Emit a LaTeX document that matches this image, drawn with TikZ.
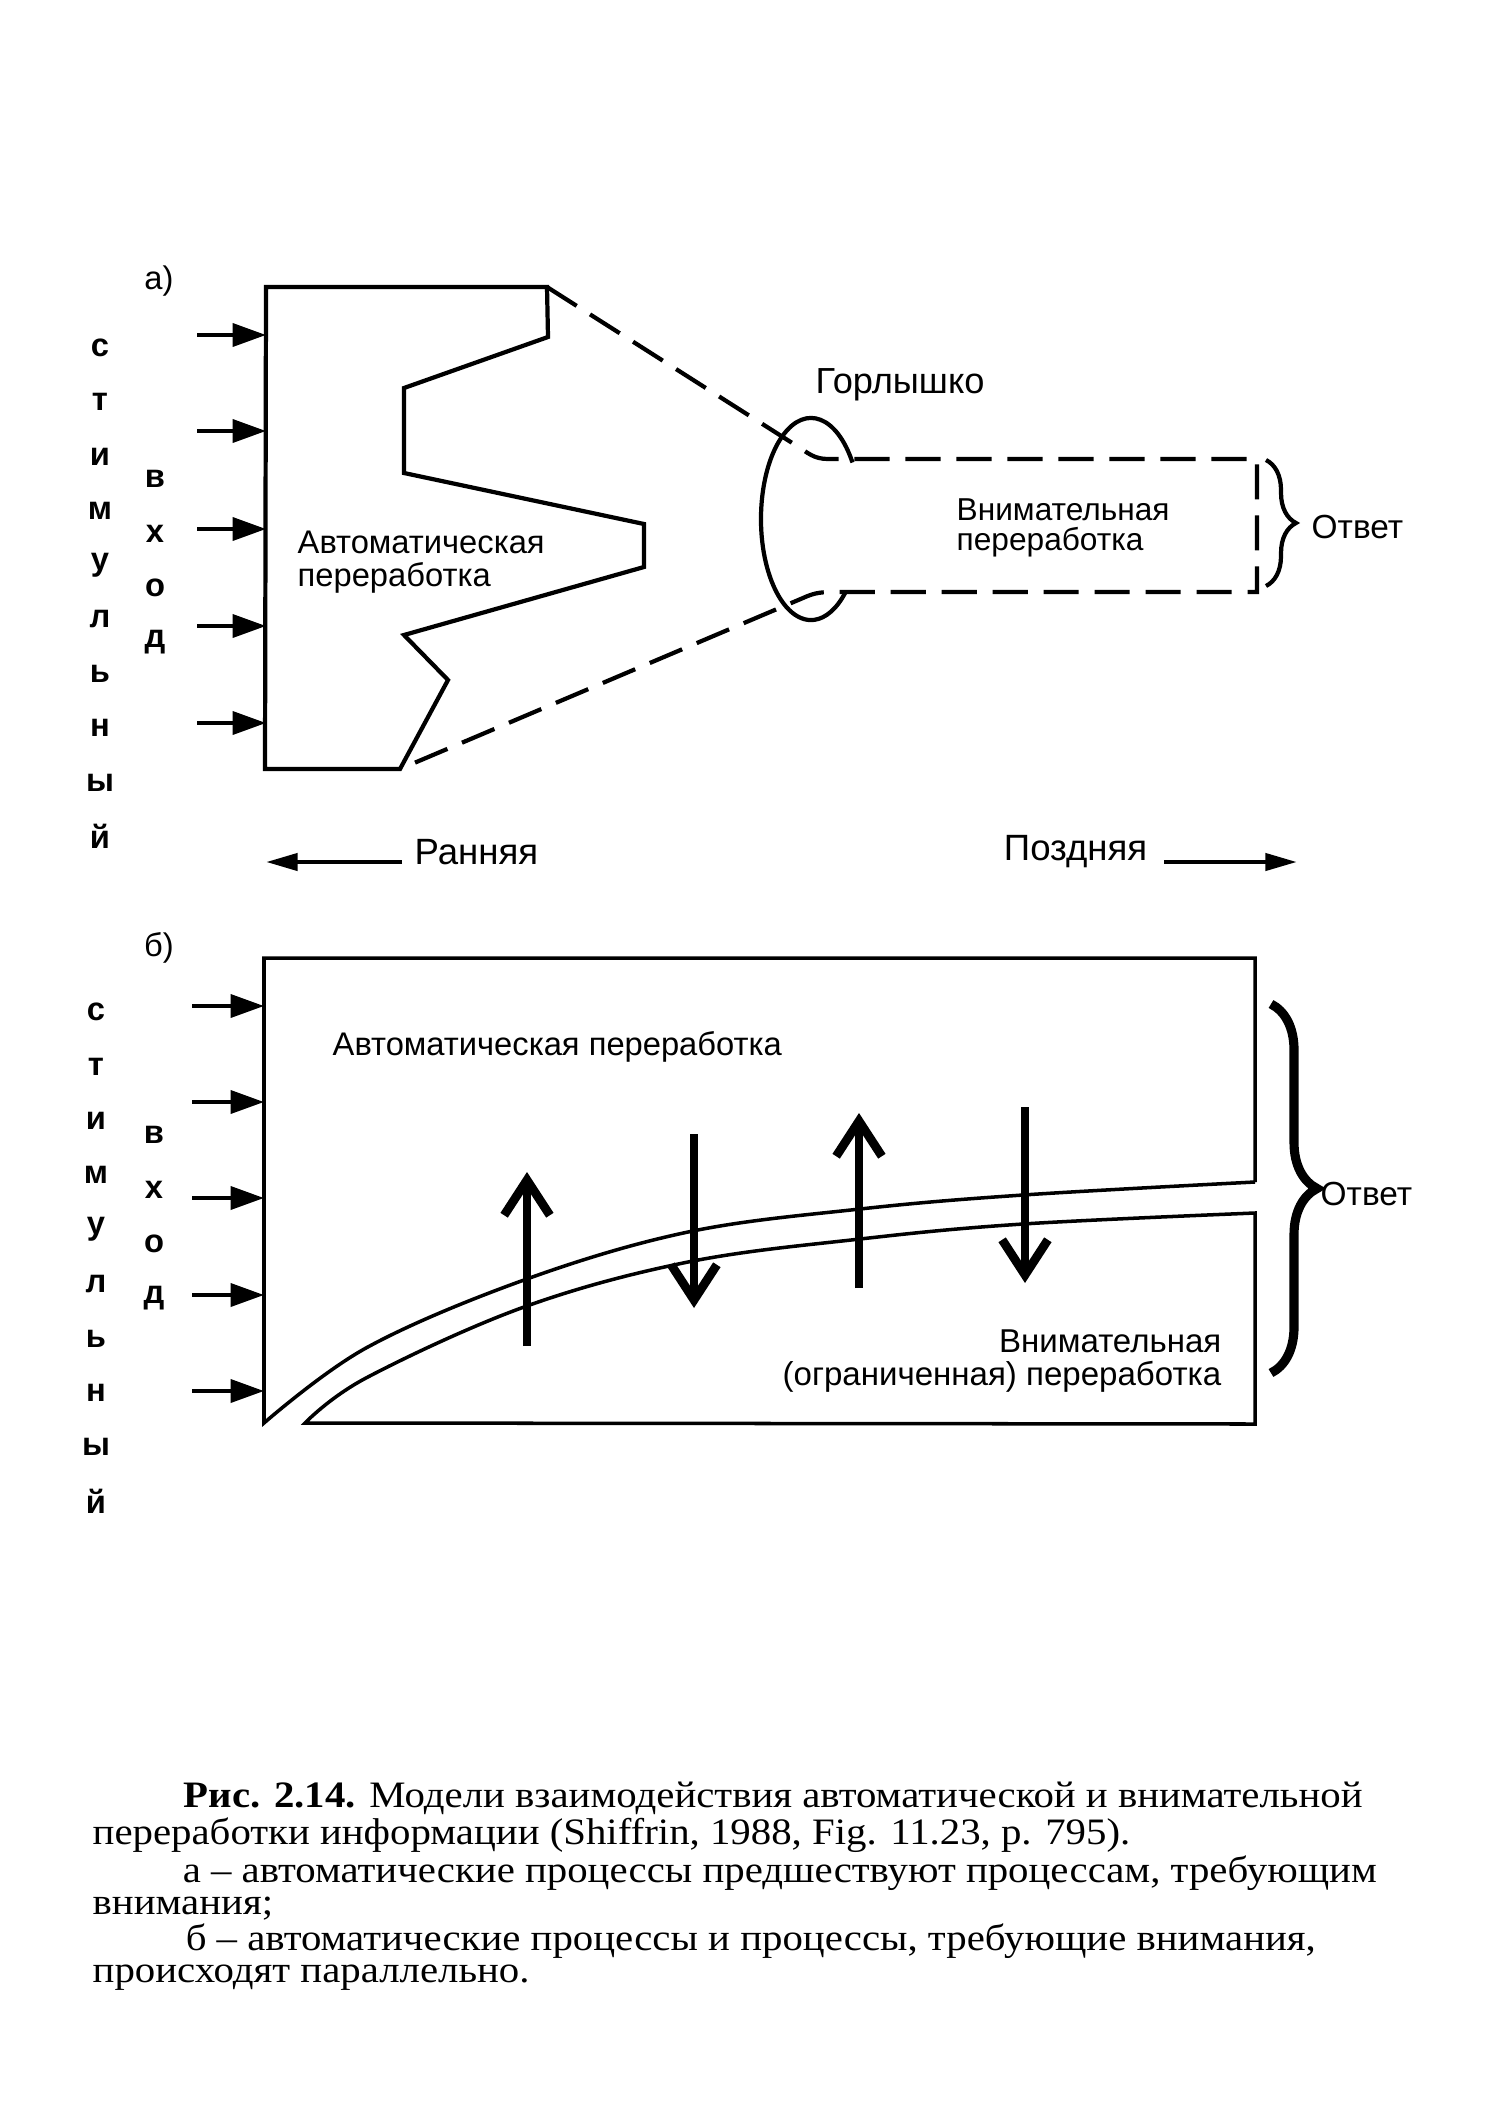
\documentclass[tikz,border=0pt]{standalone}
\usepackage{fontspec}
\setmainfont{Liberation Serif}
\setsansfont{Liberation Sans}
\newfontfamily\capfont[FakeStretch=1.095]{Liberation Serif}
\usepackage{tikz}
\usetikzlibrary{positioning,arrows.meta,decorations.pathreplacing,calc}
\tikzset{>=latex}
\tikzset{outline/.style={line width=1.2pt,line join=miter}}
\tikzset{thinbox/.style={line width=1pt}}
\tikzset{funnel/.style={line width=1.2pt,dash pattern=on 10pt off 4.5pt}}
\tikzset{inarrow/.style={line width=1.2pt,-{Triangle[length=9.5pt,width=6.5pt]}}}
\tikzset{timearrow/.style={line width=1.3pt,-{Triangle[length=9pt,width=4.8pt]}}}
\tikzset{flow/.style={line width=2.5pt,-{Straight Barb[length=10pt,width=13pt]}}}
\tikzset{lbl/.style={font=\sffamily\fontsize{9.3}{9.4}\selectfont,inner sep=0pt}}
\tikzset{letter/.style={font=\sffamily\bfseries\fontsize{9.3}{10}\selectfont,inner sep=0pt}}
\tikzset{caption/.style={font=\capfont\fontsize{10.6}{9.1}\selectfont,inner sep=0pt,align=left}}

\begin{document}
\begin{tikzpicture}[x=0.01cm,y=-0.01cm]
    \useasboundingbox (0,0) rectangle (1491,2127);

    \node[lbl] (taga) at (159,281) {а)};
    \foreach \l [count=\i] in {с,т,и,м,у,л,ь,н,ы,й}
        \node[letter] (stima\i) at (100,{348+54.3*(\i-1)}) {\l};
    \foreach \l [count=\i] in {в,х,о,д}
        \node[letter] (vxa\i) at (155,{479+54.5*(\i-1)}) {\l};

    \draw[outline] (266,287) coordinate (autoTL) -- (547,287) coordinate (autoTR)
        -- (548,337) -- (404,388) -- (404,473) -- (644,524) -- (644,567)
        -- (404,635) -- (448,680) -- (400,769) coordinate (autoBR) -- (265,769) -- cycle;
    \foreach \y [count=\i] in {335,431,529,626,723}
        \draw[inarrow] (197,\y) coordinate (ina\i) -- (ina\i -| autoTL);
    \node[lbl,anchor=west,align=left] (autoa) at (297,562) {Автоматическая\\переработка};

    \coordinate (neck) at (811,519);
    \draw[funnel] (autoTR) -- (797,446) .. controls (808,453) and (814,459) .. (828,459)
        -- (1257,459) -- (1257,592) -- (832,592) .. controls (818,592) and (812,594) .. (803,598)
        -- (autoBR);
    \draw[outline] (neck) ++(34:0.5cm and 1.01cm)
        arc[start angle=34,end angle=313,x radius=0.5cm,y radius=1.01cm];
    \node[lbl,font=\sffamily\fontsize{10.3}{11}\selectfont] (neckl) at (900,385) {Горлышко};
    \node[lbl,anchor=west,align=left,font=\sffamily\fontsize{9}{8.6}\selectfont] (attna) at (956,528) {Внимательная\\переработка};
    \draw[line width=1.2pt,decorate,decoration={brace,amplitude=0.3cm}] (1266,460) -- (1266,586);
    \node[lbl,anchor=west,font=\sffamily\fontsize{9.5}{10}\selectfont] (resa) at (1311,527) {Ответ};

    \node[lbl,anchor=west,font=\sffamily\fontsize{10.4}{11}\selectfont] (early) at (414,852) {Ранняя};
    \node[lbl,anchor=east,font=\sffamily\fontsize{10.4}{11}\selectfont] (late) at (1148,852) {Поздняя};
    \coordinate (earlyend) at (266,862);
    \coordinate (lateend) at (1297,862);
    \draw[timearrow] ($(early.west |- earlyend)+(-12,0)$) -- (earlyend);
    \draw[timearrow] ($(late.east |- lateend)+(16,0)$) -- (lateend);

    \node[lbl] (tagb) at (159,948) {б)};
    \foreach \l [count=\i] in {с,т,и,м,у,л,ь,н,ы,й}
        \node[letter] (stimb\i) at (96,{1012+54.4*(\i-1)}) {\l};
    \foreach \l [count=\i] in {в,х,о,д}
        \node[letter] (vxb\i) at (154,{1135+54.5*(\i-1)}) {\l};

    \draw[thinbox] (1255,1182) -- (1255,958) -- (264,958) coordinate (boxTL) -- (264,1423)
        -- plot[smooth,tension=0.6] coordinates {(264,1423) (366,1348) (524,1280) (688,1232) (860,1209) (1023,1195) (1255,1182)};
    \draw[thinbox] plot[smooth,tension=0.6] coordinates {(305,1423) (366,1378) (524,1307) (688,1262) (860,1239) (1023,1224) (1255,1213)}
        -- (1255,1424) -- cycle;
    \foreach \y [count=\i] in {1006,1102,1198,1295,1391}
        \draw[inarrow] (192,\y) coordinate (inb\i) -- (inb\i -| boxTL);
    \node[lbl,anchor=west] (autob) at (332,1047) {Автоматическая переработка};
    \node[lbl,anchor=east,align=right,font=\sffamily\fontsize{9.4}{9.4}\selectfont] (attnb) at (1222,1361) {Внимательная\\(ограниченная) переработка};
    \foreach \x/\ya/\yb [count=\i] in {527/1346/1172,694/1134/1308,859/1288/1113,1025/1107/1283} {
        \coordinate (fs\i) at (\x,\ya);
        \coordinate (fe\i) at (\x,\yb);
        \draw[flow] (fs\i) -- (fe\i);
    }
    \draw[line width=2.6pt,decorate,decoration={brace,amplitude=0.46cm}] (1271,1004) -- (1271,1373);
    \node[lbl,anchor=west,font=\sffamily\fontsize{9.5}{10}\selectfont] (resb) at (1320,1194) {Ответ};

    \node[caption,anchor=north west] (cap) at (92,1781) {%
        \hspace*{0.91cm}\textbf{Рис. 2.14.} Модели взаимодействия автоматической и внимательной\\
        переработки информации (Shiffrin, 1988, Fig. 11.23, p. 795).\\
        \hspace*{0.90cm}а \textendash{} автоматические процессы предшествуют процессам, требующим\\
        внимания;\\
        \hspace*{0.93cm}б \textendash{} автоматические процессы и процессы, требующие внимания,\\
        происходят параллельно.};
\end{tikzpicture}
\end{document}
